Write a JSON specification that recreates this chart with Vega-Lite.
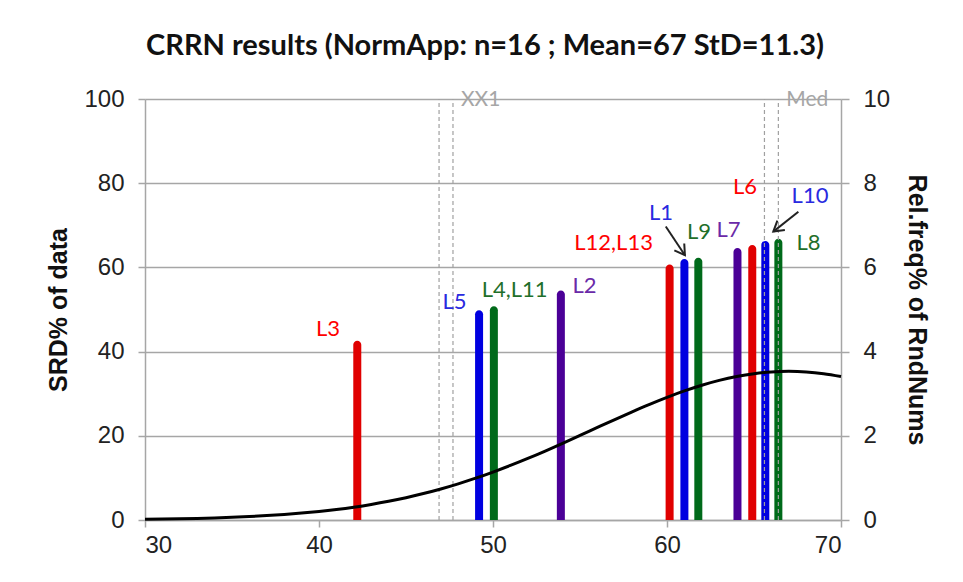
{
  "$schema": "https://vega.github.io/schema/vega-lite/v6.json",
  "width": 696,
  "height": 421,
  "autosize": {"type": "none"},
  "padding": {"left": 145, "top": 99, "right": 122, "bottom": 62},
  "background": "white",
  "config": {
    "view": {"stroke": null},
    "axis": {
      "labelFont": "Liberation Sans",
      "labelFontSize": 24,
      "labelColor": "#222222",
      "titleFont": "Liberation Sans",
      "titleFontSize": 25,
      "titleFontWeight": "bold",
      "titleColor": "#111111",
      "domainColor": "#a6a6a6",
      "domainWidth": 1.5,
      "tickColor": "#a6a6a6",
      "tickWidth": 1.5,
      "gridColor": "#a6a6a6",
      "gridWidth": 1.5
    }
  },
  "title": {
    "text": "CRRN results (NormApp: n=16 ; Mean=67 StD=11.3)",
    "font": "Lato",
    "fontSize": 29,
    "fontWeight": "bold",
    "color": "#111111",
    "anchor": "middle",
    "frame": "group",
    "dx": -8,
    "offset": 26
  },
  "datasets": {
    "bars": [
      {"label": "L3", "x": 42.2, "y": 42.6, "series": "red"},
      {"label": "L5", "x": 49.2, "y": 49.8, "series": "blue"},
      {"label": "L4,L11", "x": 50.05, "y": 50.8, "series": "green"},
      {"label": "L2", "x": 53.9, "y": 54.5, "series": "purple"},
      {"label": "L12,L13", "x": 60.15, "y": 60.7, "series": "red"},
      {"label": "L1", "x": 61.0, "y": 62.0, "series": "blue"},
      {"label": "L9", "x": 61.8, "y": 62.3, "series": "green"},
      {"label": "L7", "x": 64.05, "y": 64.6, "series": "purple"},
      {"label": "L6", "x": 64.9, "y": 65.3, "series": "red"},
      {"label": "L10", "x": 65.65, "y": 66.3, "series": "blue"},
      {"label": "L8", "x": 66.4, "y": 66.8, "series": "green"}
    ],
    "labels": [
      {"text": "L3", "x": 40.52, "y": 45.4, "series": "red"},
      {"text": "L5", "x": 47.79, "y": 51.7, "series": "blue"},
      {"text": "L4,L11", "x": 51.24, "y": 54.6, "series": "green"},
      {"text": "L2", "x": 55.26, "y": 55.5, "series": "purple"},
      {"text": "L12,L13", "x": 56.93, "y": 65.9, "series": "red"},
      {"text": "L1", "x": 59.66, "y": 73.0, "series": "blue"},
      {"text": "L9", "x": 61.84, "y": 68.3, "series": "green"},
      {"text": "L7", "x": 63.53, "y": 69.0, "series": "purple"},
      {"text": "L6", "x": 64.48, "y": 79.0, "series": "red"},
      {"text": "L10", "x": 68.22, "y": 77.0, "series": "blue"},
      {"text": "L8", "x": 68.13, "y": 65.9, "series": "green"}
    ],
    "refs": [
      {"name": "XX1", "x": 46.9},
      {"name": "XX1", "x": 47.7},
      {"name": "Med", "x": 65.6},
      {"name": "Med", "x": 66.4}
    ],
    "refLabels": [
      {"text": "XX1", "x": 47.7},
      {"text": "Med", "x": 66.4}
    ],
    "arrows": [
      {"arrow": "L1", "x": 59.93, "y": 69.7, "x2": 61.03, "y2": 62.9},
      {"arrow": "L10", "x": 67.55, "y": 73.2, "x2": 66.11, "y2": 68.5}
    ],
    "curve": [
      {"x": 30, "freq": 0.0166}, {"x": 31, "freq": 0.0221}, {"x": 32, "freq": 0.0291},
      {"x": 33, "freq": 0.0382}, {"x": 34, "freq": 0.0496}, {"x": 35, "freq": 0.0640},
      {"x": 36, "freq": 0.0819}, {"x": 37, "freq": 0.1040}, {"x": 38, "freq": 0.1311},
      {"x": 39, "freq": 0.1639}, {"x": 40, "freq": 0.2033}, {"x": 41, "freq": 0.2502},
      {"x": 42, "freq": 0.3054}, {"x": 43, "freq": 0.3700}, {"x": 44, "freq": 0.4449},
      {"x": 45, "freq": 0.5306}, {"x": 46, "freq": 0.6279}, {"x": 47, "freq": 0.7373},
      {"x": 48, "freq": 0.8588}, {"x": 49, "freq": 0.9928}, {"x": 50, "freq": 1.1387},
      {"x": 51, "freq": 1.2957}, {"x": 52, "freq": 1.4629}, {"x": 53, "freq": 1.6388},
      {"x": 54, "freq": 1.8215}, {"x": 55, "freq": 2.0088}, {"x": 56, "freq": 2.1983},
      {"x": 57, "freq": 2.3866}, {"x": 58, "freq": 2.5710}, {"x": 59, "freq": 2.7479},
      {"x": 60, "freq": 2.9141}, {"x": 61, "freq": 3.0662}, {"x": 62, "freq": 3.2013},
      {"x": 63, "freq": 3.3160}, {"x": 64, "freq": 3.4082}, {"x": 65, "freq": 3.4756},
      {"x": 66, "freq": 3.5167}, {"x": 67, "freq": 3.5305}, {"x": 68, "freq": 3.5167},
      {"x": 69, "freq": 3.4756}, {"x": 70, "freq": 3.4082}
    ]
  },
  "layer": [
    {
      "layer": [
        {
          "data": {"name": "bars"},
          "mark": {"type": "bar", "orient": "vertical", "size": 8, "cornerRadiusEnd": 4},
          "encoding": {
            "x": {
              "field": "x", "type": "quantitative",
              "scale": {"domain": [30, 70], "nice": false, "zero": false, "padding": 0},
              "axis": {"values": [30, 40, 50, 60, 70], "title": null, "grid": false, "tickSize": 7, "labelPadding": 6}
            },
            "y": {
              "field": "y", "type": "quantitative", "stack": null,
              "scale": {"domain": [0, 100], "nice": false, "padding": 0},
              "axis": {"values": [0, 20, 40, 60, 80, 100], "title": "SRD%  of data", "grid": true, "tickSize": 7, "labelPadding": 14, "titlePadding": 12}
            },
            "color": {
              "field": "series", "type": "nominal", "legend": null,
              "scale": {"domain": ["red", "blue", "green", "purple"], "range": ["#e00000", "#0000e0", "#006a1a", "#4b0097"]}
            }
          }
        },
        {
          "data": {"name": "refs"},
          "mark": {"type": "rule", "color": "#a0a0a0", "strokeWidth": 1.2, "strokeDash": [4, 3]},
          "encoding": {
            "x": {"field": "x", "type": "quantitative"},
            "y": {"datum": 0},
            "y2": {"datum": 100}
          }
        },
        {
          "data": {"name": "refLabels"},
          "mark": {"type": "text", "align": "left", "baseline": "middle", "dx": 8, "dy": 1, "font": "Lato", "fontSize": 21, "color": "#a6a6a6"},
          "encoding": {
            "x": {"field": "x", "type": "quantitative"},
            "y": {"datum": 100},
            "text": {"field": "text"}
          }
        },
        {
          "data": {"name": "labels"},
          "mark": {"type": "text", "align": "center", "baseline": "middle", "font": "Lato", "fontSize": 22},
          "encoding": {
            "x": {"field": "x", "type": "quantitative"},
            "y": {"field": "y", "type": "quantitative"},
            "text": {"field": "text"},
            "fill": {
              "field": "series", "type": "nominal", "legend": null,
              "scale": {"domain": ["red", "blue", "green", "purple"], "range": ["#ff0000", "#2a2ae0", "#1f6f2a", "#6a2aa8"]}
            }
          }
        },
        {
          "data": {"name": "arrows"},
          "mark": {"type": "rule", "color": "#222222", "strokeWidth": 2},
          "encoding": {
            "x": {"field": "x", "type": "quantitative"},
            "y": {"field": "y", "type": "quantitative"},
            "x2": {"field": "x2"},
            "y2": {"field": "y2"}
          }
        },
        {
          "data": {"name": "arrows"},
          "transform": [{"filter": "datum.arrow == 'L1'"}],
          "mark": {"type": "point", "shape": "M -1 -0.6 L 0 0 L -1 0.6", "filled": false, "size": 400, "strokeWidth": 2, "color": "#222222", "opacity": 1, "angle": 55.7},
          "encoding": {
            "x": {"field": "x2", "type": "quantitative"},
            "y": {"field": "y2", "type": "quantitative"}
          }
        },
        {
          "data": {"name": "arrows"},
          "transform": [{"filter": "datum.arrow == 'L10'"}],
          "mark": {"type": "point", "shape": "M -1 -0.6 L 0 0 L -1 0.6", "filled": false, "size": 400, "strokeWidth": 2, "color": "#222222", "opacity": 1, "angle": 141.3},
          "encoding": {
            "x": {"field": "x2", "type": "quantitative"},
            "y": {"field": "y2", "type": "quantitative"}
          }
        }
      ]
    },
    {
      "data": {"name": "curve"},
      "mark": {"type": "line", "color": "#000000", "strokeWidth": 3, "interpolate": "monotone"},
      "encoding": {
        "x": {"field": "x", "type": "quantitative"},
        "y": {
          "field": "freq", "type": "quantitative",
          "scale": {"domain": [0, 10], "nice": false},
          "axis": {"orient": "right", "values": [0, 2, 4, 6, 8, 10], "title": "Rel.freq% of RndNums", "grid": false, "tickSize": 8, "labelPadding": 14, "titlePadding": 14}
        }
      }
    }
  ],
  "resolve": {"scale": {"y": "independent"}, "axis": {"y": "independent"}}
}
